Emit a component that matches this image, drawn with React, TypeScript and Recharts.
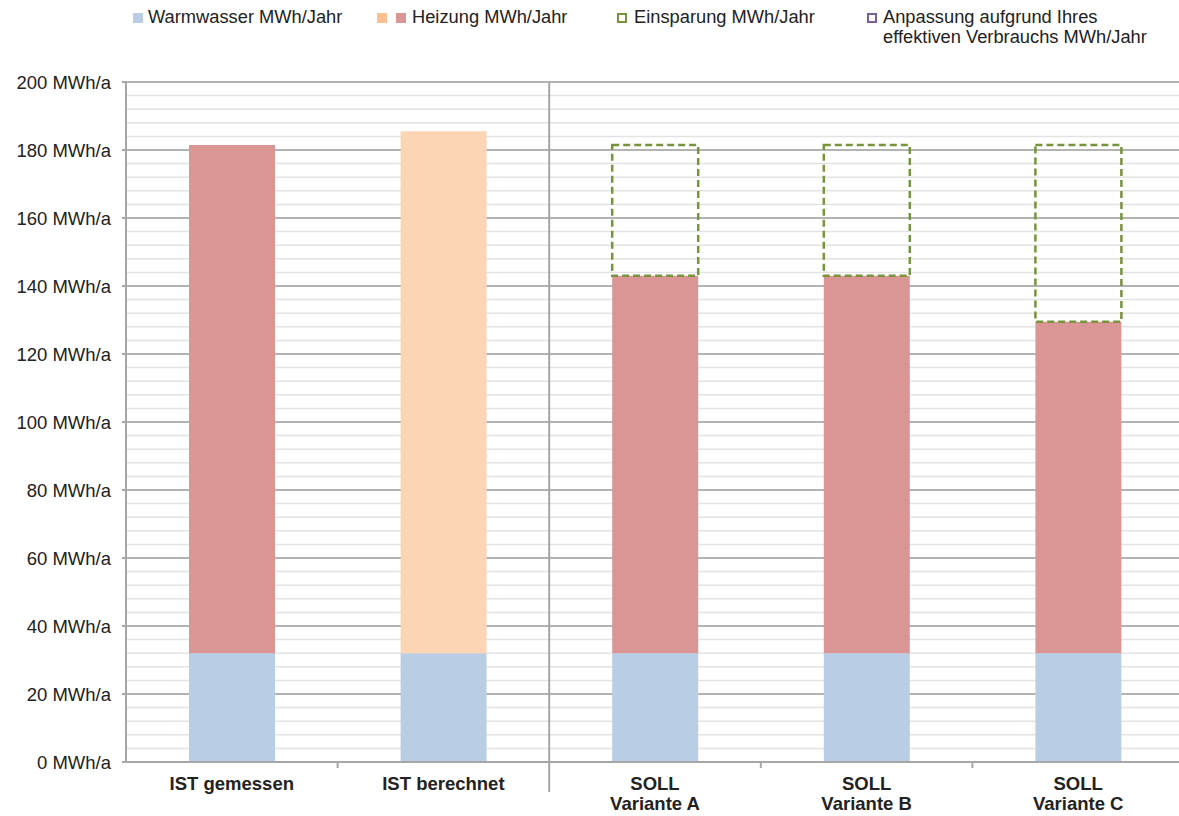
import { Bar, BarChart, CartesianGrid, Cell, XAxis, YAxis } from "recharts";

// Kategorien und Werte (MWh/a)
const categories = [
  "IST gemessen",
  "IST berechnet",
  "SOLL\nVariante A",
  "SOLL\nVariante B",
  "SOLL\nVariante C",
];
const warmwasser = [32, 32, 32, 32, 32];
const heizung = [149.5, 153.5, 111, 111, 97.5];
const einsparung = [0, 0, 38.5, 38.5, 52];
const anpassung = [0, 0, 0, 0, 0];

const majorTicks = [0, 20, 40, 60, 80, 100, 120, 140, 160, 180, 200];
const minorTicks = [
  4, 8, 12, 16, 24, 28, 32, 36, 44, 48, 52, 56, 64, 68, 72, 76, 84, 88, 92, 96,
  104, 108, 112, 116, 124, 128, 132, 136, 144, 148, 152, 156, 164, 168, 172, 176,
  184, 188, 192, 196,
];

const FONT = "'Liberation Sans', Arial, sans-serif";
const FONT_SIZE = 18.5;
const TEXT = "#222222";
const AXIS = "#a6a6a6";

const C_WW = "#b9cde5";
const C_HZ = "#d99694";
const C_HZ_CALC = "#fcd5b5";
const C_HZ_CALC_LEGEND = "#fac090";
const C_EIN = "#77933c";
const C_ANP = "#7a5e9b";

// Layout
const CHART_W = 1190;
const CHART_H = 816;
const Y_W = 126;
const TOP = 82;
const X_H = 54;
const RIGHT = 6;
const PLOT_W = CHART_W - Y_W - RIGHT;
const PLOT_H = CHART_H - TOP - X_H;
const BAND = PLOT_W / categories.length;
const SPLIT = categories.findIndex((c) => c.startsWith("SOLL"));

const data = categories.map((name, i) => ({
  name,
  warmwasser: warmwasser[i],
  heizung: heizung[i],
  einsparung: einsparung[i],
  anpassung: anpassung[i],
}));

function CategoryTick(props: any) {
  const { x, y, payload, index } = props;
  const lines = String(payload.value).split("\n");
  const left = x - BAND / 2;
  const isSplit = index === SPLIT;
  return (
    <g>
      {index > 0 && (
        <line
          x1={left}
          x2={left}
          y1={isSplit ? y - PLOT_H : y}
          y2={isSplit ? y + 30 : y + 6}
          stroke={AXIS}
          strokeWidth={2}
        />
      )}
      {lines.map((l, i) => (
        <text
          key={i}
          x={x}
          y={y + 21 + i * 20}
          textAnchor="middle"
          dominantBaseline="central"
          fontFamily={FONT}
          fontSize={FONT_SIZE}
          fontWeight="bold"
          fill={TEXT}
        >
          {l}
        </text>
      ))}
    </g>
  );
}

const legendText = {
  position: "absolute" as const,
  top: 7,
  fontFamily: FONT,
  fontSize: 18.3,
  lineHeight: "20px",
  color: TEXT,
  whiteSpace: "nowrap" as const,
};

function Square({ left, color }: { left: number; color: string }) {
  return (
    <div
      style={{ position: "absolute", left, top: 13, width: 10, height: 10, background: color }}
    />
  );
}

function DashIcon({ left, color }: { left: number; color: string }) {
  return (
    <div
      style={{
        position: "absolute",
        left,
        top: 13,
        width: 6,
        height: 6,
        border: `2px dashed ${color}`,
      }}
    />
  );
}

function ChartLegend() {
  return (
    <div style={{ position: "absolute", left: 0, top: 0, width: 1179, height: 60 }}>
      <Square left={133} color={C_WW} />
      <div style={{ ...legendText, left: 148 }}>Warmwasser MWh/Jahr</div>
      <Square left={377} color={C_HZ_CALC_LEGEND} />
      <Square left={396} color={C_HZ} />
      <div style={{ ...legendText, left: 412 }}>Heizung MWh/Jahr</div>
      <DashIcon left={617} color={C_EIN} />
      <div style={{ ...legendText, left: 634 }}>Einsparung MWh/Jahr</div>
      <DashIcon left={867} color={C_ANP} />
      <div style={{ ...legendText, left: 883 }}>
        Anpassung aufgrund Ihres
        <br />
        effektiven Verbrauchs MWh/Jahr
      </div>
    </div>
  );
}

export default function App() {
  return (
    <div
      style={{
        position: "absolute",
        left: 0,
        top: 0,
        width: 1179,
        height: 816,
        overflow: "hidden",
        background: "#ffffff",
      }}
    >
      <BarChart
        width={CHART_W}
        height={CHART_H}
        data={data}
        margin={{ top: TOP, right: RIGHT, left: 0, bottom: 0 }}
        barSize={86}
      >
        <CartesianGrid
          vertical={false}
          horizontalValues={minorTicks}
          stroke="#e3e3e3"
          strokeWidth={1.5}
        />
        <CartesianGrid
          vertical={false}
          horizontalValues={majorTicks}
          stroke="#b3b3b3"
          strokeWidth={2}
        />
        <XAxis
          dataKey="name"
          height={X_H}
          interval={0}
          tickSize={0}
          tickMargin={0}
          tickLine={false}
          axisLine={{ stroke: AXIS, strokeWidth: 2 }}
          tick={<CategoryTick />}
        />
        <YAxis
          width={Y_W}
          domain={[0, 200]}
          ticks={majorTicks}
          interval={0}
          tickFormatter={(v: number) => `${v} MWh/a`}
          tickSize={4}
          tickMargin={11}
          axisLine={{ stroke: AXIS, strokeWidth: 2 }}
          tickLine={{ stroke: AXIS, strokeWidth: 2 }}
          tick={{ fontSize: FONT_SIZE, fill: TEXT, fontFamily: FONT }}
        />
        <Bar dataKey="warmwasser" stackId="a" fill={C_WW} isAnimationActive={false} />
        <Bar dataKey="heizung" stackId="a" fill={C_HZ} isAnimationActive={false}>
          {categories.map((c) => (
            <Cell key={c} fill={c === "IST berechnet" ? C_HZ_CALC : C_HZ} />
          ))}
        </Bar>
        <Bar
          dataKey="einsparung"
          stackId="a"
          fill="none"
          stroke={C_EIN}
          strokeWidth={2.5}
          strokeDasharray="7 4"
          isAnimationActive={false}
        />
        <Bar
          dataKey="anpassung"
          stackId="a"
          fill="none"
          stroke={C_ANP}
          strokeWidth={2.5}
          strokeDasharray="7 4"
          isAnimationActive={false}
        />
      </BarChart>
      <ChartLegend />
    </div>
  );
}
